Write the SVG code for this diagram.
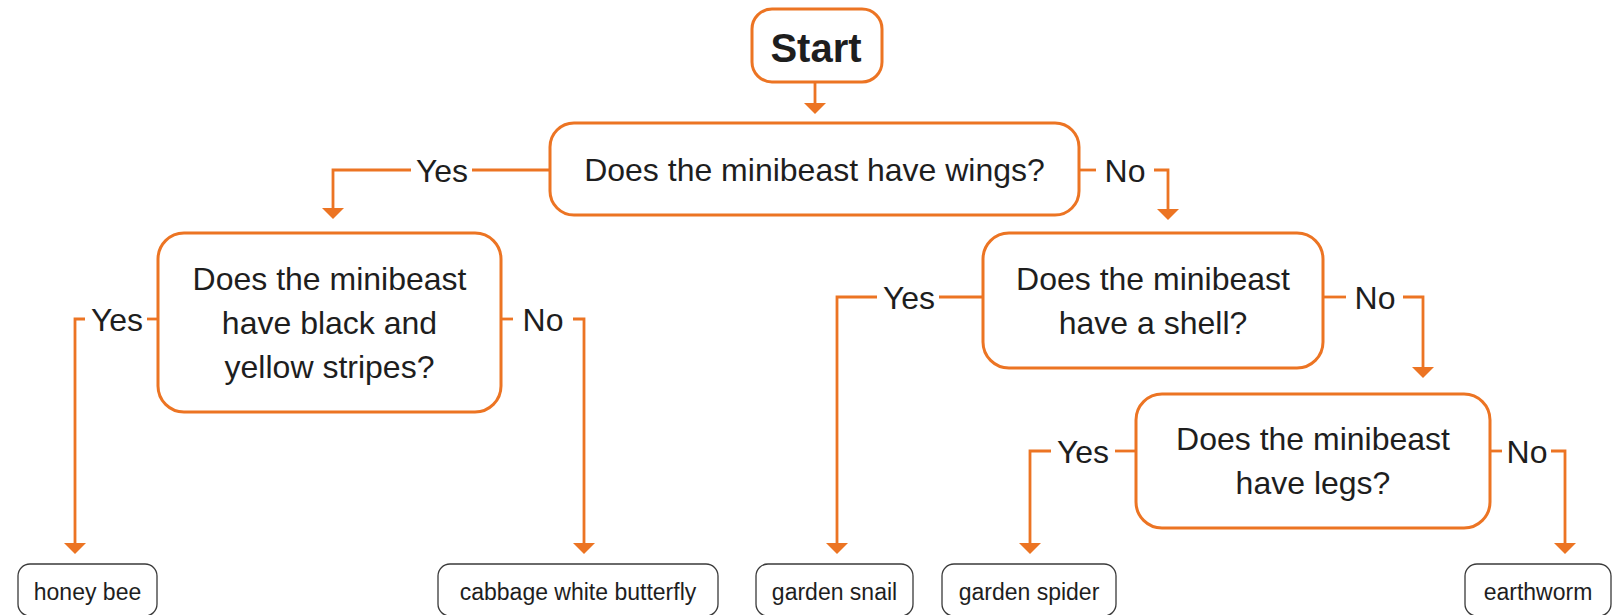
<svg xmlns="http://www.w3.org/2000/svg" width="1615" height="615" viewBox="0 0 1615 615">
<style>
.q{fill:#fff;stroke:#EC7423;stroke-width:3}
.leaf{fill:#fff;stroke:#3a3a3a;stroke-width:1.3}
.t{font-family:"Liberation Sans",Arial,sans-serif;font-size:32px;fill:#1e1e1e;text-anchor:middle}
.s{font-family:"Liberation Sans",Arial,sans-serif;font-size:23px;fill:#1e1e1e;text-anchor:middle}
.b{font-family:"Liberation Sans",Arial,sans-serif;font-size:40px;font-weight:bold;fill:#1e1e1e;text-anchor:middle}
.c{fill:none;stroke:#EC7423;stroke-width:2.8}
</style>
<defs>
<marker id="ah" markerUnits="userSpaceOnUse" markerWidth="12" markerHeight="22" refX="0" refY="10" orient="auto" viewBox="0 0 10 20">
<path d="M0,0 L10,10 L0,20 Z" fill="#EC7423"/>
</marker>
</defs>
<g id="connectors">
<path class="c" d="M815 82 V103" marker-end="url(#ah)"/>
<path class="c" d="M472 170 H550"/>
<path class="c" d="M411 170 H333 V208" marker-end="url(#ah)"/>
<path class="c" d="M1079 170 H1096"/>
<path class="c" d="M1154 170 H1168 V209" marker-end="url(#ah)"/>
<path class="c" d="M158 319 H147"/>
<path class="c" d="M85 319 H75 V543" marker-end="url(#ah)"/>
<path class="c" d="M501 319 H513"/>
<path class="c" d="M573 319 H584 V543" marker-end="url(#ah)"/>
<path class="c" d="M983 297 H939"/>
<path class="c" d="M877 297 H837 V543" marker-end="url(#ah)"/>
<path class="c" d="M1323 297 H1346"/>
<path class="c" d="M1403 297 H1423 V367" marker-end="url(#ah)"/>
<path class="c" d="M1136 451 H1115"/>
<path class="c" d="M1051 451 H1030 V543" marker-end="url(#ah)"/>
<path class="c" d="M1490 451 H1502"/>
<path class="c" d="M1551 451 H1565 V543" marker-end="url(#ah)"/>
<text class="t" x="442" y="182">Yes</text>
<text class="t" x="1125" y="182">No</text>
<text class="t" x="117" y="331">Yes</text>
<text class="t" x="543" y="331">No</text>
<text class="t" x="909" y="309">Yes</text>
<text class="t" x="1375" y="309">No</text>
<text class="t" x="1083" y="463">Yes</text>
<text class="t" x="1527" y="463">No</text>
</g>
<g id="start">
<rect class="q" x="752" y="9" width="130" height="73" rx="20"/>
<text class="b" x="816" y="62">Start</text>
</g>
<g id="q-wings">
<rect class="q" x="550" y="123" width="529" height="92" rx="24"/>
<text class="t" x="814.5" y="181">Does the minibeast have wings?</text>
</g>
<g id="q-stripes">
<rect class="q" x="158" y="233" width="343" height="179" rx="26"/>
<text class="t" x="329.5" y="290">Does the minibeast</text>
<text class="t" x="329.5" y="334">have black and</text>
<text class="t" x="329.5" y="378">yellow stripes?</text>
</g>
<g id="q-shell">
<rect class="q" x="983" y="233" width="340" height="135" rx="26"/>
<text class="t" x="1153" y="290">Does the minibeast</text>
<text class="t" x="1153" y="334">have a shell?</text>
</g>
<g id="q-legs">
<rect class="q" x="1136" y="394" width="354" height="134" rx="26"/>
<text class="t" x="1313" y="450">Does the minibeast</text>
<text class="t" x="1313" y="494">have legs?</text>
</g>
<g id="honey-bee">
<rect class="leaf" x="18" y="564" width="139" height="52" rx="12"/>
<text class="s" x="87.5" y="600">honey bee</text>
</g>
<g id="cabbage-white-butterfly">
<rect class="leaf" x="438" y="564" width="280" height="52" rx="12"/>
<text class="s" x="578" y="600">cabbage white butterfly</text>
</g>
<g id="garden-snail">
<rect class="leaf" x="756" y="564" width="157" height="52" rx="12"/>
<text class="s" x="834.5" y="600">garden snail</text>
</g>
<g id="garden-spider">
<rect class="leaf" x="942" y="564" width="174" height="52" rx="12"/>
<text class="s" x="1029" y="600">garden spider</text>
</g>
<g id="earthworm">
<rect class="leaf" x="1465" y="564" width="146" height="52" rx="12"/>
<text class="s" x="1538" y="600">earthworm</text>
</g>
</svg>
